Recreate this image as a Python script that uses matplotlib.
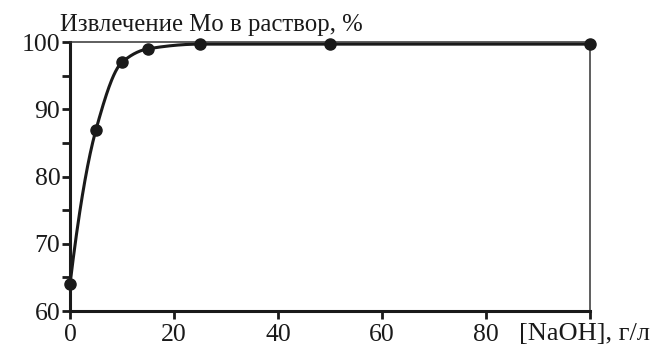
import numpy as np
import matplotlib
matplotlib.use("Agg")
import matplotlib.pyplot as plt

naoh = [0, 5, 10, 15, 25, 50, 100]
extraction = [64, 87, 97, 99, 99.7, 99.7, 99.7]
xticks = [0, 20, 40, 60, 80, 100]
xticklabels = ["0", "20", "40", "60", "80", ""]
yticks = [60, 70, 80, 90, 100]

plt.rcParams['font.family'] = ['Liberation Serif', 'DejaVu Serif']

def pchip(x, y, xs):
    x = np.asarray(x, float); y = np.asarray(y, float)
    h = np.diff(x); d = np.diff(y) / h
    n = len(x); m = np.zeros(n)
    for k in range(1, n - 1):
        if d[k-1] * d[k] > 0:
            w1 = 2*h[k] + h[k-1]; w2 = h[k] + 2*h[k-1]
            m[k] = (w1 + w2) / (w1/d[k-1] + w2/d[k])
    m[0] = d[0] * 1.4
    m[-1] = 0
    out = np.empty_like(xs)
    for i, xv in enumerate(xs):
        k = min(np.searchsorted(x, xv, side='right') - 1, n - 2)
        t = (xv - x[k]) / h[k]
        h00 = 2*t**3 - 3*t**2 + 1; h10 = t**3 - 2*t**2 + t
        h01 = -2*t**3 + 3*t**2; h11 = t**3 - t**2
        out[i] = h00*y[k] + h10*h[k]*m[k] + h01*y[k+1] + h11*h[k]*m[k+1]
    return out

fig = plt.figure(figsize=(6.65, 3.48), dpi=100)
ax = fig.add_axes([0.1053, 0.106, 0.7817, 0.773])
xs = np.linspace(0, 100, 800)
ax.plot(xs, pchip(naoh, extraction, xs), color='#1a1a1a', lw=2.2)
ax.plot(naoh, extraction, 'o', color='#1a1a1a', ms=8, clip_on=False, zorder=5)

ax.set_xlim(0, 100)
ax.set_ylim(60, 100)
ax.set_xticks(xticks)
ax.set_xticklabels(xticklabels)
ax.set_yticks(yticks)
ax.set_yticks([65, 75, 85, 95], minor=True)
ax.tick_params(axis='both', which='both', direction='out', width=2, color='#1a1a1a',
               labelsize=18.5, labelcolor='#1a1a1a')
ax.tick_params(axis='x', which='major', length=6, pad=3)
ax.tick_params(axis='y', which='major', length=6, pad=1)
ax.tick_params(axis='y', which='minor', length=6)
for s in ['left', 'bottom']:
    ax.spines[s].set_linewidth(2.2)
    ax.spines[s].set_color('#1a1a1a')
for s in ['top', 'right']:
    ax.spines[s].set_linewidth(1.1)
    ax.spines[s].set_color('#333333')

fig.text(0.09, 0.91, "Извлечение Mo в раствор, %", fontsize=17.8, ha='left', va='baseline', color='#1a1a1a')
fig.text(0.978, 0.022, "[NaOH], г/л", fontsize=19, ha='right', va='baseline', color='#1a1a1a')

fig.savefig("out.png", dpi=100)
